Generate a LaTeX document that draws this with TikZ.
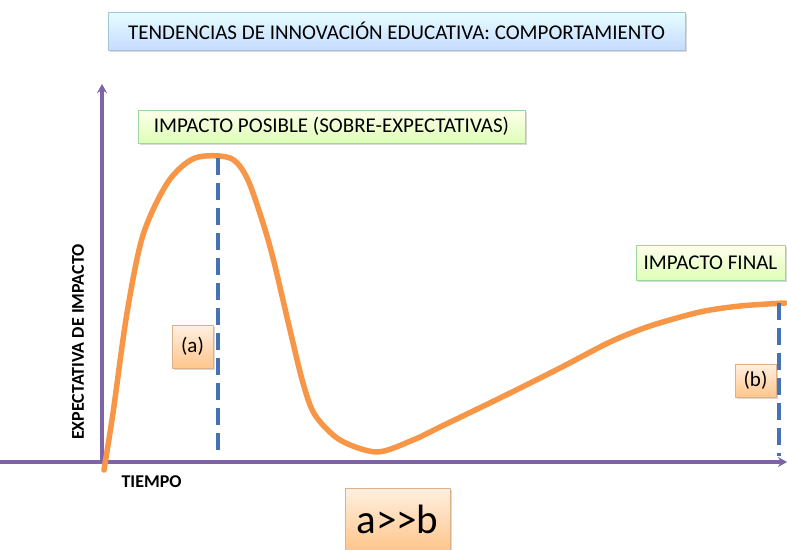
\documentclass[tikz,border=0pt]{standalone}
\usepackage{fontspec}
\setmainfont{Carlito}
\usetikzlibrary{shadows,arrows.meta}
\definecolor{ejemorado}{RGB}{126,99,168}
\definecolor{curvanaranja}{RGB}{247,150,70}
\definecolor{guionazul}{RGB}{70,114,180}
\tikzset{
  caja/.style={draw=#1, line width=0.5pt, inner xsep=7pt, inner ysep=5pt,
    font=\fontsize{21}{24}\selectfont,
    drop shadow={shadow xshift=1.5pt, shadow yshift=-1.5pt, opacity=0.3}},
  cajaazul/.style={caja=cyan!40!gray!60, top color=blue!4!cyan!10, bottom color=cyan!35!blue!22},
  cajaverde/.style={caja=green!40!gray!55, top color=green!8!yellow!8, bottom color=green!45!yellow!28},
  cajanaranja/.style={caja=orange!50!gray!60, top color=orange!12, bottom color=orange!45},
  eje/.style={ejemorado, line width=3.2pt, -{Stealth[length=9pt, width=10pt]}},
  rotuloeje/.style={font=\bfseries\fontsize{18}{20}\selectfont},
  guion/.style={guionazul, line width=4.5pt, line cap=butt, dash pattern=on 17pt off 8pt},
}
\begin{document}
\begin{tikzpicture}[x=1pt, y=-1pt, line join=round, line cap=round]
		\useasboundingbox (0,0) rectangle (787,549);
		% ejes
		\coordinate (ejeizq) at (0,462);
		\coordinate (ejeder) at (787,462);
		\coordinate (O) at (102,462);
		\coordinate (ejearriba) at (102,84);
		\draw[eje] (ejeizq)--(ejeder);
		\draw[eje] (O)--(ejearriba);
		\node[rotuloeje, anchor=west] (tiempo) at (118,482) {TIEMPO};
		\node[rotuloeje, rotate=90] (expectativa) at (78,342) {EXPECTATIVA DE IMPACTO};
		% curva
		\draw[curvanaranja, line width=5.5pt] plot[smooth, tension=0.5] coordinates {(104,470) (113,413) (127,313) (143,235) (168,182) (195,158) (230,158) (247,178) (263,223) (274,262) (290,330) (303,383) (315,415) (340,440) (377,452) (413,440) (440,427) (500,398) (560,368) (610,342) (650,326) (700,312) (740,306) (785,303)};
		% guiones
		\coordinate (picoA) at (218,158);
		\coordinate (baseA) at (218,454);
		\coordinate (picoB) at (779,303);
		\coordinate (baseB) at (779,456);
		\draw[guion] (picoA)--(baseA);
		\draw[guion] (picoB)--(baseB);
		% rotulos
		\node[cajaazul, minimum width=577pt, minimum height=38pt] (titulo) at (396.5,31) {TENDENCIAS DE INNOVACIÓN EDUCATIVA: COMPORTAMIENTO};
		\node[cajaverde, minimum width=387pt, minimum height=33pt] (posible) at (331.5,126.5) {IMPACTO POSIBLE (SOBRE-EXPECTATIVAS)};
		\node[cajaverde, minimum width=149pt, minimum height=35pt] (final) at (710.5,262.5) {IMPACTO FINAL};
		\node[cajanaranja, minimum width=41pt, minimum height=43pt, inner xsep=2pt] (a) at (192.5,346.5) {(a)};
		\node[cajanaranja, minimum width=41pt, minimum height=33pt, inner xsep=2pt] (b) at (755.5,380.5) {(b)};
		\node[cajanaranja, font=\fontsize{41}{46}\selectfont, minimum width=105pt, minimum height=62pt] (ab) at (397.5,519) {a>{}>b};
\end{tikzpicture}
\end{document}
